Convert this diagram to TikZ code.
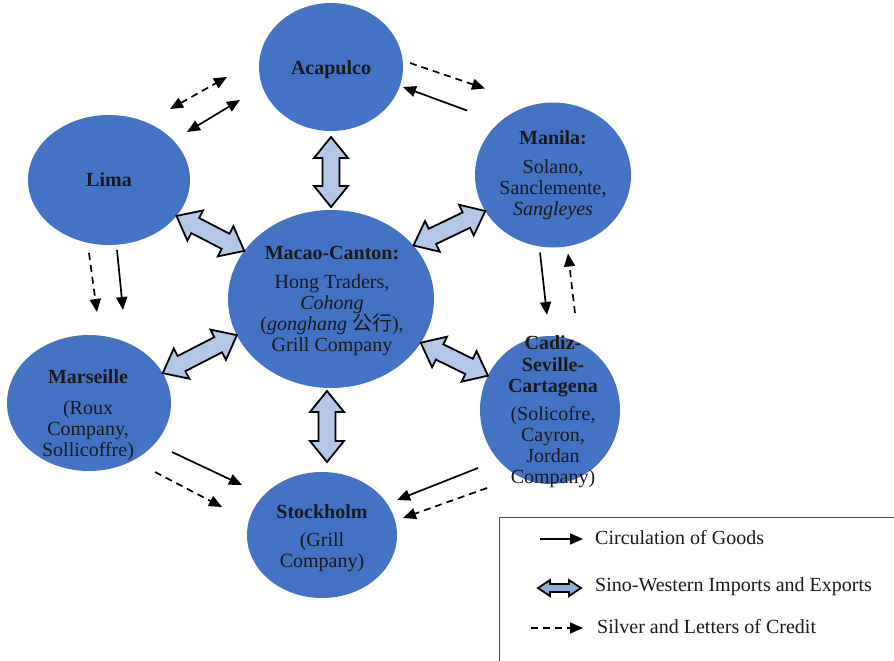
\documentclass[tikz,border=0pt]{standalone}
\usepackage{fontspec}
\setmainfont{Liberation Serif}
\newfontfamily\cjk{Noto Sans CJK SC}
\usetikzlibrary{shapes.geometric,arrows.meta,calc}
\definecolor{cityblue}{HTML}{4472C4}
\definecolor{fatfill}{HTML}{B4C7E7}
\definecolor{legfill}{HTML}{8FAADC}
\newcommand\txtfont{\fontsize{20}{21}\selectfont\lineskiplimit=-20pt\relax}
\tikzset{
  city/.style={ellipse, fill=cityblue, draw=none, inner sep=0pt, outer sep=0pt},
  txt/.style={align=center, inner sep=0pt, font=\txtfont, text=black!90},
  goods/.style={line width=1.7pt, -{Triangle[length=13pt,width=11pt]}},
  goodsboth/.style={line width=1.7pt, {Triangle[length=13pt,width=11pt]}-{Triangle[length=13pt,width=11pt]}},
  silver/.style={goods, dash pattern=on 7pt off 5pt},
  silverboth/.style={goodsboth, dash pattern=on 7pt off 5pt},
  fat/.style={draw=black, line width=1.8pt, line join=miter},
  legendbox/.style={draw=black!70, line width=1pt, anchor=north west, inner sep=0pt,
    minimum width=420pt, minimum height=170pt},
}
% fat double arrow: fill, from, to, head length, head half width, shaft half width
\newcommand\fatarr[6]{%
  \draw[fat, fill=#1] let \p1=#2, \p2=#3,
    \n1={veclen(\x2-\x1,\y2-\y1)}, \n2={atan2(\y2-\y1,\x2-\x1)} in
    [shift={(\p1)}, rotate=\n2]
    (0pt,0pt) -- (#4pt,#5pt) -- (#4pt,#6pt) -- ({\n1-#4pt},#6pt) -- ({\n1-#4pt},#5pt)
    -- ({\n1+0pt},0pt) -- ({\n1-#4pt},-#5pt) -- ({\n1-#4pt},-#6pt) -- (#4pt,-#6pt)
    -- (#4pt,-#5pt) -- cycle;}
\begin{document}
\begin{tikzpicture}[x=1pt, y=-1pt]
\useasboundingbox (0,0) rectangle (894,661);

% cities
\node[city, minimum width=144pt, minimum height=128pt] (acap) at (331,67) {};
\node[city, minimum width=162pt, minimum height=130pt] (lima) at (109,180) {};
\node[city, minimum width=156pt, minimum height=145pt] (manila) at (553,175) {};
\node[city, minimum width=206pt, minimum height=178pt] (macao) at (331,299) {};
\node[city, minimum width=164pt, minimum height=136pt] (mars) at (89,403) {};
\node[city, minimum width=140pt, minimum height=148pt] (cadiz) at (550,410) {};
\node[city, minimum width=150pt, minimum height=126pt] (stock) at (322,535) {};

% texts
\node[txt] (acap-t) at (331,70) {\bfseries Acapulco};
\node[txt] (lima-t) at (109,180) {\bfseries Lima};
\node[txt] (manila-t) at (553,175.5) {{\bfseries Manila:}\\[8pt] Solano,\\ Sanclemente,\\ \textit{Sangleyes}};
\node[txt] (macao-t) at (332,301) {{\bfseries Macao-Canton:}\\[8pt] Hong Traders,\\ \textit{Cohong}\\ (\textit{gonghang} {\cjk 公行}),\\ Grill Company};
\node[txt] (mars-t) at (88,415.5) {{\bfseries Marseille}\\[10pt] (Roux\\ Company,\\ Sollicoffre)};
\node[txt] (cadiz-t) at (553,412) {\bfseries Cadiz-\\[0.5pt] \bfseries Seville-\\[0.5pt] \bfseries Cartagena\\[7pt] (Solicofre,\\ Cayron,\\ Jordan\\ Company)};
\node[txt] (stock-t) at (322,538) {{\bfseries Stockholm}\\[7pt] (Grill\\ Company)};

% Sino-Western fat arrows
\fatarr{fatfill}{([shift={(0,6)}]acap.south)}{([shift={(0,-3)}]macao.north)}{21}{17}{8.5}
\fatarr{fatfill}{(lima.-28)}{(macao.151)}{21}{17}{8.5}
\fatarr{fatfill}{(manila.-152)}{(macao.33)}{21}{17}{8.5}
\fatarr{fatfill}{(macao.-159)}{(mars.22)}{21}{17}{8.5}
\fatarr{fatfill}{(macao.-26)}{(cadiz.151)}{21}{17}{8.5}
\fatarr{fatfill}{([shift={(-4,3)}]macao.south)}{([shift={(5,-10)}]stock.north)}{21}{17}{8.5}

% thin arrows
\draw[silverboth] ([shift={(61,-6)}]lima.north) -- ([shift={(-32,10)}]acap.west);
\draw[goodsboth] ([shift={(78,17)}]lima.north) -- ([shift={(-19,33)}]acap.west);
\draw[silver] ([shift={(7,-4)}]acap.east) -- ([shift={(-68,-14)}]manila.north);
\draw[goods] ([shift={(-86,8)}]manila.north) -- ([shift={(0,20)}]acap.east);
\draw[silver] ([shift={(-20,8)}]lima.south) -- ([shift={(8,-23)}]mars.north);
\draw[goods] ([shift={(8,5)}]lima.south) -- ([shift={(34,-25)}]mars.north);
\draw[goods] ([shift={(-13,5)}]manila.south) -- ([shift={(-3,-21)}]cadiz.north);
\draw[silver] ([shift={(25,-23)}]cadiz.north) -- ([shift={(15,6)}]manila.south);
\draw[goods] ([shift={(1,49)}]mars.east) -- ([shift={(-5,-50)}]stock.west);
\draw[silver] ([shift={(-16,69)}]mars.east) -- ([shift={(-25,-28)}]stock.west);
\draw[goods] ([shift={(-72,-16)}]cadiz.south) -- ([shift={(0,-35)}]stock.east);
\draw[silver] ([shift={(-63,4)}]cadiz.south) -- ([shift={(6,-17)}]stock.east);

% legend
\node[legendbox] (legend) at (499,517) {};
\coordinate (lg1a) at (540,539);
\coordinate (lg1b) at (583,539);
\coordinate (lg2a) at (538,588);
\coordinate (lg2b) at (581,588);
\coordinate (lg3a) at (531,628);
\coordinate (lg3b) at (583,628);
\draw[goods] (lg1a) -- (lg1b);
\fatarr{legfill}{(lg2a)}{(lg2b)}{12}{8}{4}
\draw[silver] (lg3a) -- (lg3b);
\node[txt, anchor=west] (lg1-t) at (595,537.5) {Circulation of Goods};
\node[txt, anchor=west] (lg2-t) at (595,587) {Sino-Western Imports and Exports};
\node[txt, anchor=west] (lg3-t) at (597,627) {Silver and Letters of Credit};
\end{tikzpicture}
\end{document}
